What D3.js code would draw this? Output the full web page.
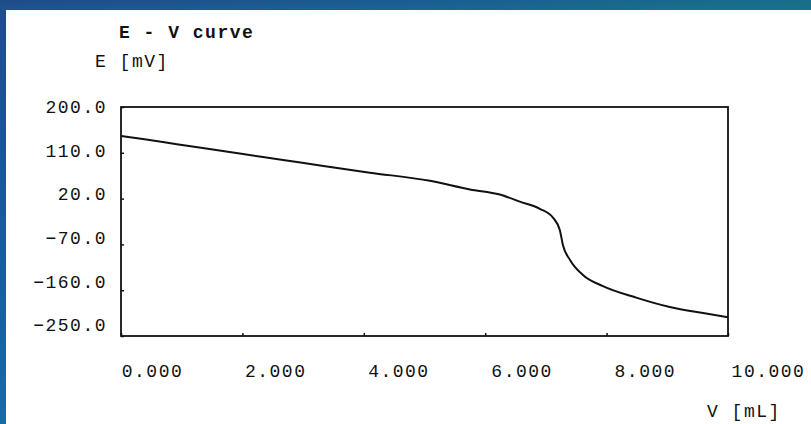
<!DOCTYPE html>
<html>
<head>
<meta charset="utf-8">
<script src="https://cdn.jsdelivr.net/npm/d3@7"></script>
<style>
  body { margin: 0; overflow: hidden; background: #fff; }
  text { font-family: "Liberation Mono", "DejaVu Sans Mono", monospace; fill: #111; }
</style>
</head>
<body>
<div id="chart"></div>
<script>
// titration curve
var volume = [0, 0.36, 0.92, 2.01, 2.67, 3.28, 4.10, 5.09, 5.75, 6.24, 6.57, 6.90, 7.12, 7.23, 7.28, 7.40, 7.61, 7.94, 8.50, 9.04, 9.59, 10];
var potential = [143, 137, 127, 107.5, 96, 85, 71, 55, 38, 28, 14, 0, -18, -42, -71, -101, -130, -152, -175, -193, -205, -213];
var eTicks = [200, 110, 20, -70, -160, -250];
var vTicks = [0, 2, 4, 6, 8, 10];

var W = 811, H = 424;
var box = {left: 121, right: 728, top: 107, bottom: 336};

var svg = d3.select("#chart").append("svg")
    .attr("width", W)
    .attr("height", H);

// slide background (blue band top + left)
var defs = svg.append("defs");
var grad = defs.append("linearGradient").attr("id", "bg")
    .attr("x1", "0%").attr("y1", "0%").attr("x2", "100%").attr("y2", "30%");
grad.append("stop").attr("offset", "0%").attr("stop-color", "#1f4a8a");
grad.append("stop").attr("offset", "55%").attr("stop-color", "#1a5f93");
grad.append("stop").attr("offset", "100%").attr("stop-color", "#177089");
var gradL = defs.append("linearGradient").attr("id", "bgl")
    .attr("x1", "0%").attr("y1", "0%").attr("x2", "0%").attr("y2", "100%");
gradL.append("stop").attr("offset", "0%").attr("stop-color", "#1f4c8c");
gradL.append("stop").attr("offset", "60%").attr("stop-color", "#1c5c9a");
gradL.append("stop").attr("offset", "100%").attr("stop-color", "#1a6aa0");

svg.append("rect").attr("width", W).attr("height", H).attr("fill", "url(#bgl)");
svg.append("rect").attr("width", W).attr("height", 10).attr("fill", "url(#bg)");
svg.append("rect").attr("x", 6).attr("y", 10).attr("width", W - 6).attr("height", H - 10).attr("fill", "#fff");

var x = d3.scaleLinear().domain([0, 10]).range([box.left, box.right]);
var y = d3.scaleLinear().domain([-250, 200]).range([box.bottom, box.top]);

// the printed labels sit a bit off the tick marks
var xLab = d3.scaleLinear().domain([0, 10]).range([152, 768]);
var yLab = d3.scaleLinear().domain([-250, 200]).range([325, 107]);

var fs = "18px";

// frame
svg.append("rect")
    .attr("x", x(0)).attr("y", y(200))
    .attr("width", x(10) - x(0)).attr("height", y(-250) - y(200))
    .attr("fill", "none")
    .attr("stroke", "#111")
    .attr("stroke-width", 1.8);

// small tick marks
var gTy = svg.append("g").attr("transform", "translate(" + box.left + ",0)")
    .call(d3.axisLeft(y).tickValues(eTicks).tickSize(-3).tickFormat(""));
gTy.select(".domain").remove();
var gTx = svg.append("g").attr("transform", "translate(0," + box.bottom + ")")
    .call(d3.axisBottom(x).tickValues(vTicks).tickSize(-3).tickFormat(""));
gTx.select(".domain").remove();
svg.selectAll(".tick line").attr("stroke", "#111").attr("stroke-width", 1.5);

// tick labels
var gLy = svg.append("g").attr("transform", "translate(107,0)")
    .call(d3.axisLeft(yLab).tickValues(eTicks).tickSize(0).tickPadding(0).tickFormat(d3.format(".1f")));
gLy.select(".domain").remove();
gLy.selectAll("text")
    .style("font-size", fs)
    .style("letter-spacing", "1.5px")
    .attr("fill", "#111");

var gLx = svg.append("g").attr("transform", "translate(0,364)")
    .call(d3.axisBottom(xLab).tickValues(vTicks).tickSize(0).tickPadding(0).tickFormat(d3.format(".3f")));
gLx.select(".domain").remove();
gLx.selectAll("text")
    .style("font-size", fs)
    .style("letter-spacing", "1.5px")
    .attr("fill", "#111");

// curve
var pts = volume.map(function(v, i) { return [v, potential[i]]; });
var line = d3.line()
    .x(function(d) { return x(d[0]); })
    .y(function(d) { return y(d[1]); })
    .curve(d3.curveMonotoneX);
svg.append("path")
    .datum(pts)
    .attr("d", line)
    .attr("fill", "none")
    .attr("stroke", "#111")
    .attr("stroke-width", 2);

// titles
svg.append("text")
    .attr("x", 119).attr("y", 38)
    .style("font-size", fs)
    .style("font-weight", "bold")
    .style("letter-spacing", "1.5px")
    .text("E - V curve");
svg.append("text")
    .attr("x", 95).attr("y", 67)
    .style("font-size", fs)
    .style("letter-spacing", "1.5px")
    .text("E [mV]");
svg.append("text")
    .attr("x", 707).attr("y", 417)
    .style("font-size", fs)
    .style("letter-spacing", "1.5px")
    .text("V [mL]");
</script>
</body>
</html>
